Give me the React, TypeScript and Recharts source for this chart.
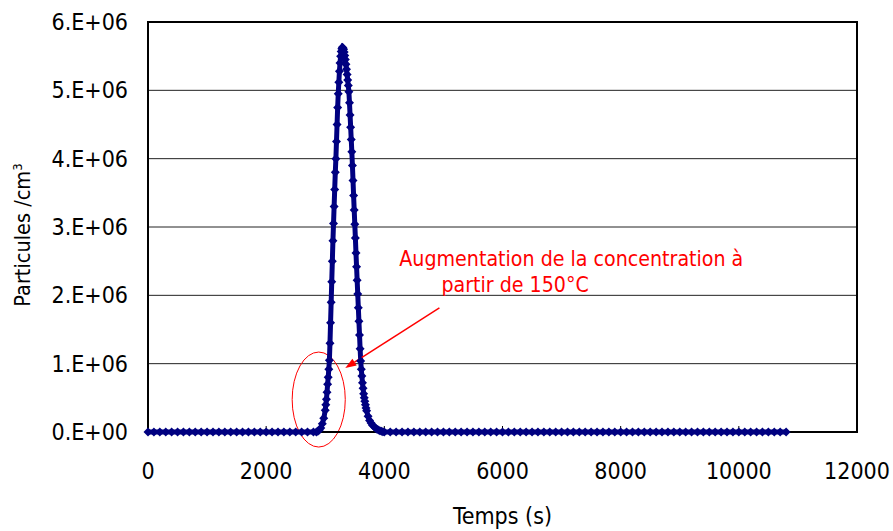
import {
  CartesianGrid,
  Label,
  Line,
  LineChart,
  ReferenceArea,
  ReferenceDot,
  ReferenceLine,
  XAxis,
  YAxis,
} from "recharts";

// temps (s)
const times = [
  0, 100, 200, 300, 400, 500, 600, 700, 800, 900,
  1000, 1100, 1200, 1300, 1400, 1500, 1600, 1700, 1800, 1900,
  2000, 2100, 2200, 2300, 2400, 2500, 2600, 2700, 2800,
  2850, 2875, 2900, 2925, 2950, 2975, 3000,
  3010, 3020, 3030, 3040, 3050, 3060, 3070, 3080, 3090, 3100,
  3110, 3120, 3130, 3140, 3150, 3160, 3170, 3180, 3190, 3200,
  3210, 3220, 3230, 3240, 3250, 3260, 3270, 3280, 3290, 3300,
  3310, 3320, 3330, 3340, 3350, 3360, 3370, 3380, 3390, 3400,
  3410, 3420, 3430, 3440, 3450, 3460, 3470, 3480, 3490, 3500,
  3510, 3520, 3530, 3540, 3550, 3560, 3570, 3580, 3590, 3600,
  3610, 3620, 3630, 3640, 3650, 3660, 3670, 3680, 3690, 3700,
  3725, 3750, 3775, 3800, 3825, 3850, 3875, 3900, 3925, 3950, 3975, 4000,
  4100, 4200, 4300, 4400, 4500, 4600, 4700, 4800, 4900, 5000,
  5100, 5200, 5300, 5400, 5500, 5600, 5700, 5800, 5900, 6000,
  6100, 6200, 6300, 6400, 6500, 6600, 6700, 6800, 6900, 7000,
  7100, 7200, 7300, 7400, 7500, 7600, 7700, 7800, 7900, 8000,
  8100, 8200, 8300, 8400, 8500, 8600, 8700, 8800, 8900, 9000,
  9100, 9200, 9300, 9400, 9500, 9600, 9700, 9800, 9900, 10000,
  10100, 10200, 10300, 10400, 10500, 10600, 10700, 10800,
];

// particules/cm3, en millions
const particlesM = [
  0, 0, 0, 0, 0, 0, 0, 0, 0, 0,
  0, 0, 0, 0, 0, 0, 0, 0, 0, 0,
  0, 0, 0, 0, 0, 0, 0, 0, 0,
  0, 0.01, 0.03, 0.06, 0.12, 0.2, 0.32,
  0.4, 0.48, 0.58, 0.7, 0.8, 0.92, 1.05, 1.3, 1.6, 1.9,
  2.2, 2.5, 2.8, 3.05, 3.3, 3.55, 3.8, 4.0, 4.25, 4.5,
  4.75, 4.95, 5.12, 5.28, 5.4, 5.5, 5.57, 5.61, 5.63, 5.62,
  5.6, 5.56, 5.51, 5.45, 5.38, 5.31, 5.23, 5.15, 5.07, 4.98,
  4.82, 4.64, 4.46, 4.28, 4.1, 3.9, 3.68, 3.46, 3.25, 3.04,
  2.84, 2.62, 2.42, 2.22, 2.02, 1.82, 1.62, 1.42, 1.22, 1.04,
  0.92, 0.82, 0.72, 0.64, 0.56, 0.5, 0.45, 0.4, 0.35, 0.31,
  0.23, 0.17, 0.13, 0.1, 0.08, 0.06, 0.04, 0.03, 0.02, 0.01, 0.005, 0,
  0, 0, 0, 0, 0, 0, 0, 0, 0, 0,
  0, 0, 0, 0, 0, 0, 0, 0, 0, 0,
  0, 0, 0, 0, 0, 0, 0, 0, 0, 0,
  0, 0, 0, 0, 0, 0, 0, 0, 0, 0,
  0, 0, 0, 0, 0, 0, 0, 0, 0, 0,
  0, 0, 0, 0, 0, 0, 0, 0, 0, 0,
  0, 0, 0, 0, 0, 0, 0, 0,
];

const xTicks = [0, 2000, 4000, 6000, 8000, 10000, 12000];
const yTicks = [0, 1e6, 2e6, 3e6, 4e6, 5e6, 6e6];

const annotationLines = ["Augmentation de la concentration à", "partir de 150°C"];

const FONT = "'DejaVu Sans Condensed', 'DejaVu Sans', sans-serif";
const NAVY = "#000080";
const RED = "#ff0000";

const data = times.map((t, i) => ({ t, value: particlesM[i] * 1e6 }));

const formatY = (v: number) => (v === 0 ? "0.E+00" : `${v / 1e6}.E+06`);

const Diamond = (props: any) => {
  const { cx, cy, index } = props;
  if (cx == null || cy == null) return <g key={`d-${index}`} />;
  const r = 4.5;
  return (
    <path
      key={`d-${index}`}
      d={`M${cx},${cy - r}L${cx + r},${cy}L${cx},${cy + r}L${cx - r},${cy}Z`}
      fill={NAVY}
    />
  );
};

const Arrow = (props: any) => {
  const { x1, y1, x2, y2 } = props;
  const ang = Math.atan2(y2 - y1, x2 - x1);
  const len = 11;
  const w = 4;
  const bx = x2 - len * Math.cos(ang);
  const by = y2 - len * Math.sin(ang);
  const px = -Math.sin(ang) * w;
  const py = Math.cos(ang) * w;
  return (
    <g>
      <line x1={x1} y1={y1} x2={bx} y2={by} stroke={RED} strokeWidth={1.5} />
      <polygon
        points={`${x2},${y2} ${bx + px},${by + py} ${bx - px},${by - py}`}
        fill={RED}
      />
    </g>
  );
};

const EllipseShape = (props: any) => {
  const { x, y, width, height } = props;
  return (
    <ellipse
      cx={x + width / 2}
      cy={y + height / 2}
      rx={Math.abs(width) / 2}
      ry={Math.abs(height) / 2}
      fill="none"
      stroke={RED}
      strokeWidth={1}
    />
  );
};

const noteText = (text: string) => (props: any) => (
  <text x={props.cx} y={props.cy} fill={RED} fontSize={21.2} fontFamily={FONT}>
    {text}
  </text>
);

export default function App() {
  return (
    <div style={{ position: "absolute", left: 0, top: 0, background: "#fff" }}>
      <LineChart
        width={893}
        height={531}
        data={data}
        margin={{ top: 22, right: 36, bottom: 0, left: 0 }}
      >
        <CartesianGrid vertical={false} stroke="#222" strokeWidth={1} />
        <XAxis
          dataKey="t"
          type="number"
          domain={[0, 12000]}
          ticks={xTicks}
          height={99}
          tickSize={-6}
          tickMargin={37}
          tick={{ fill: "#000", fontSize: 23, fontFamily: FONT }}
          tickLine={{ stroke: "#000" }}
          axisLine={{ stroke: "#000", strokeWidth: 2 }}
        >
          <Label
            content={(p: any) => {
              const vb = p.viewBox;
              return (
                <text
                  x={vb.x + vb.width / 2}
                  y={vb.y + 92}
                  textAnchor="middle"
                  fill="#000"
                  fontSize={23}
                  fontFamily={FONT}
                >
                  Temps (s)
                </text>
              );
            }}
          />
        </XAxis>
        <YAxis
          type="number"
          domain={[0, 6000000]}
          ticks={yTicks}
          width={148}
          tickLine={false}
          tickSize={0}
          tickMargin={20}
          tickFormatter={formatY}
          tick={{ fill: "#000", fontSize: 23, fontFamily: FONT }}
          axisLine={{ stroke: "#000", strokeWidth: 2 }}
        >
          <Label
            content={(p: any) => {
              const vb = p.viewBox;
              const cx = vb.x + 30;
              const cy = vb.y + vb.height / 2 + 8;
              return (
                <text
                  transform={`translate(${cx},${cy}) rotate(-90)`}
                  textAnchor="middle"
                  fill="#000"
                  fontSize={21.5}
                  fontFamily={FONT}
                >
                  Particules /cm
                  <tspan dy={-8} fontSize={13}>
                    3
                  </tspan>
                </text>
              );
            }}
          />
        </YAxis>
        <ReferenceArea
          x1={0}
          x2={12000}
          y1={0}
          y2={6000000}
          fill="none"
          stroke="#000"
          strokeWidth={2}
          fillOpacity={0}
        />
        <Line
          type="linear"
          dataKey="value"
          stroke={NAVY}
          strokeWidth={5}
          dot={Diamond}
          activeDot={false}
          isAnimationActive={false}
        />
        <ReferenceArea
          x1={2440}
          x2={3339}
          y1={-220000}
          y2={1170000}
          ifOverflow="visible"
          shape={EllipseShape}
        />
        <ReferenceLine
          segment={[
            { x: 4932, y: 1815000 },
            { x: 3339, y: 937000 },
          ]}
          ifOverflow="visible"
          shape={Arrow}
        />
        <ReferenceDot x={4254} y={2430000} r={0} shape={noteText(annotationLines[0])} />
        <ReferenceDot x={4966} y={2050000} r={0} shape={noteText(annotationLines[1])} />
      </LineChart>
    </div>
  );
}
